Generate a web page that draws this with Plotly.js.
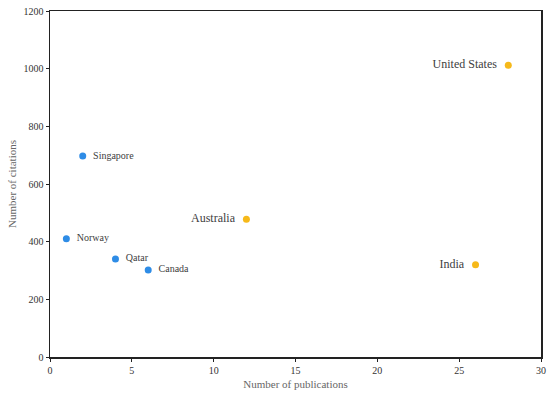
<!DOCTYPE html>
<html><head><meta charset="utf-8">
<script src="https://cdn.plot.ly/plotly-3.0.1.min.js"></script>
<style>body{margin:0;background:#fff}#c{width:550px;height:398px}</style>
</head><body><div id="c"></div>
<script>
const blueNames = ["Singapore","Norway","Qatar","Canada"];
const bluePubs = [2, 1, 4, 6];
const blueCites = [697, 410, 340, 302];
const orangeNames = ["United States","Australia","India"];
const orangePubs = [28, 12, 26];
const orangeCites = [1012, 478, 320];
const xTicks = [0,5,10,15,20,25,30];
const yTicks = [0,200,400,600,800,1000,1200];

const serif = "'Liberation Serif', 'Times New Roman', serif";
const traces = [
  {x: bluePubs, y: blueCites, text: blueNames.map(s => "\u2002" + s), mode: "markers+text", type: "scatter",
   textposition: "middle right", textfont: {family: serif, size: 10, color: "#404040"},
   marker: {color: "#2e8ce6", size: 7}, cliponaxis: false, hoverinfo: "none"},
  {x: orangePubs, y: orangeCites, text: orangeNames.map(s => s + "\u2002"), mode: "markers+text", type: "scatter",
   textposition: "middle left", textfont: {family: serif, size: 12, color: "#404040"},
   marker: {color: "#f6b91a", size: 7}, cliponaxis: false, hoverinfo: "none"}
];
const layout = {
  width: 550, height: 398,
  margin: {l: 50, r: 9, t: 11, b: 41},
  showlegend: false,
  paper_bgcolor: "#fff", plot_bgcolor: "#fff",
  font: {family: serif, color: "#333"},
  xaxis: {range: [0, 30], tickvals: xTicks, ticktext: xTicks.map(String),
    showgrid: false, zeroline: false, showline: true, mirror: true,
    linecolor: "#222", linewidth: 1.5, ticks: "outside", ticklen: 3, tickcolor: "#222",
    tickfont: {family: serif, size: 10, color: "#333"},
    title: {text: "Number of publications", font: {family: serif, size: 11, color: "#666"}, standoff: 6}},
  yaxis: {range: [0, 1200], tickvals: yTicks, ticktext: yTicks.map(String),
    showgrid: false, zeroline: false, showline: true, mirror: true,
    linecolor: "#222", linewidth: 1.5, ticks: "outside", ticklen: 3, tickcolor: "#222",
    tickfont: {family: serif, size: 10, color: "#333"},
    title: {text: "Number of citations", font: {family: serif, size: 11, color: "#666"}, standoff: 4}}
};
Plotly.newPlot("c", traces, layout, {staticPlot: true});
</script></body></html>
